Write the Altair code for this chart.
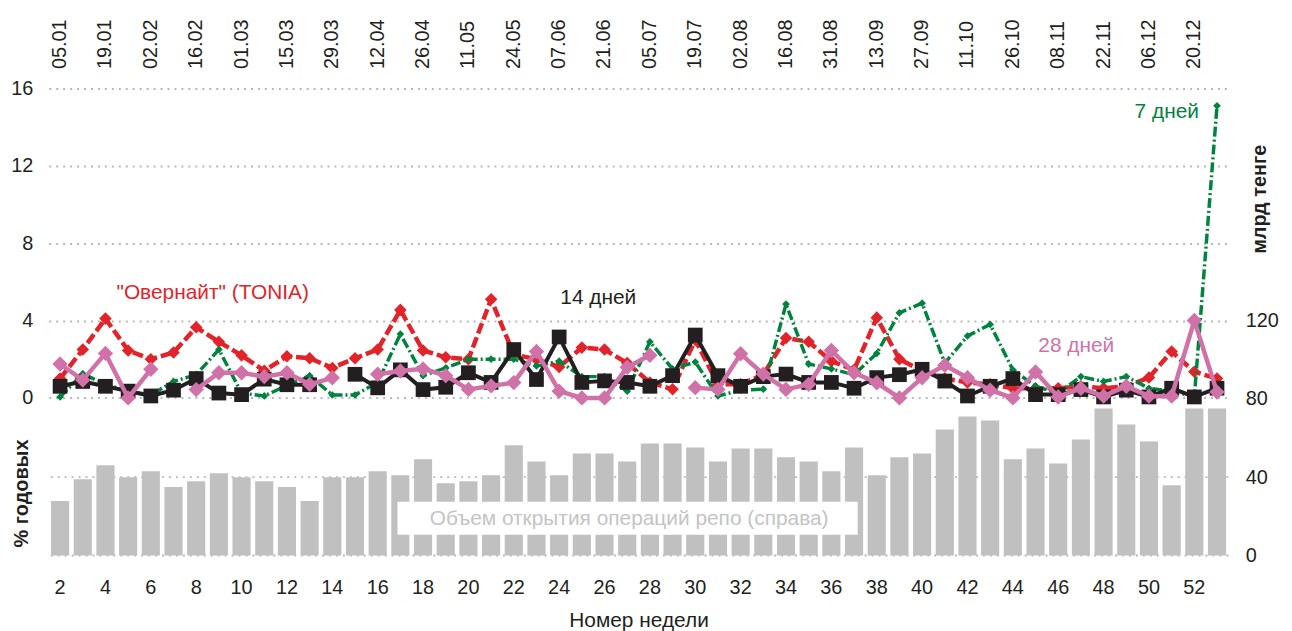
import altair as alt
import pandas as pd

# ---------------- data ----------------
weeks = list(range(2, 54))
date_labels = ["05.01", "19.01", "02.02", "16.02", "01.03", "15.03", "29.03", "12.04",
               "26.04", "11.05", "24.05", "07.06", "21.06", "05.07", "19.07", "02.08",
               "16.08", "31.08", "13.09", "27.09", "11.10", "26.10", "08.11", "22.11",
               "06.12", "20.12"]

tonia = [1.0, 2.5, 4.1, 2.45, 2.0, 2.35, 3.65, 2.9, 2.2, 1.4,
         2.15, 2.05, 1.55, 2.05, 2.5, 4.55, 2.45, 2.1, 2.0, 5.1,
         2.25, 2.0, 1.6, 2.6, 2.5, 1.8, 0.8, 0.45, 3.0, 0.7,
         0.7, 1.2, 3.1, 2.9, 1.9, 1.45, 4.15, 2.0, 1.4, 1.0,
         0.8, 0.7, 0.5, 0.5, 0.5, 0.6, 0.5, 0.6, 1.05, 2.4,
         1.35, 1.0]
days7 = [0.05, 1.25, 0.7, 0.35, 0.15, 0.85, 1.2, 2.5, 0.25, 0.1,
         0.65, 1.15, 0.15, 0.15, 0.8, 3.3, 1.15, 1.55, 2.0, 2.0,
         2.0, 1.65, 1.9, 1.1, 1.1, 0.35, 2.9, 1.5, 1.85, 0.1,
         0.4, 0.45, 4.85, 1.75, 1.5, 1.2, 2.3, 4.4, 4.9, 1.8,
         3.2, 3.8, 1.45, 0.6, 0.25, 1.1, 0.85, 1.1, 0.5, 0.35,
         0.05, 15.1]
days14 = [0.6, 0.85, 0.6, 0.35, 0.1, 0.4, 1.0, 0.25, 0.17, 0.97,
          0.68, 0.68, None, 1.22, 0.52, 1.45, 0.43, 0.55, 1.3, 0.8,
          2.5, 0.95, 3.15, 0.8, 0.88, 0.8, 0.6, 1.15, 3.25, 1.15,
          0.6, 1.1, 1.23, 0.8, 0.8, 0.5, 1.05, 1.2, 1.48, 0.87,
          0.1, 0.6, 1.0, 0.17, 0.17, 0.43, 0.05, 0.4, 0.05, 0.5,
          0.05, 0.5]
days28 = [1.75, 0.92, 2.3, 0.0, 1.48, None, 0.43, 1.3, 1.3, 1.1,
          1.3, 0.7, 1.04, None, 1.22, 1.39, 1.5, 1.15, 0.44, 0.62,
          0.79, 2.4, 0.35, 0.0, 0.0, 1.58, 2.2, None, 0.53, 0.44,
          2.28, 1.23, 0.44, 0.7, 2.45, 1.3, 0.78, 0.0, 1.04, 1.69,
          1.04, 0.4, 0.0, 1.34, 0.05, 0.49, 0.09, 0.6, 0.09, 0.09,
          4.0, 0.3]
repo_volume = [27.8, 38.9, 46.0, 39.9, 43.0, 34.9, 37.9, 42.0, 39.9, 37.9,
               34.9, 27.8, 39.9, 39.9, 43.0, 41.0, 49.1, 36.9, 37.9, 41.0,
               56.2, 48.0, 41.0, 52.1, 52.1, 48.0, 57.2, 57.2, 55.1, 48.0,
               54.6, 54.6, 50.1, 48.0, 43.0, 55.1, 41.0, 50.1, 52.1, 64.3,
               70.9, 68.9, 49.1, 54.6, 47.0, 59.2, 75.0, 66.9, 58.2, 35.9,
               75.0, 75.0]
right_grid_values = [0, 40]

# ---------------- styling ----------------
FONT = "Liberation Sans"
INK = "#231f20"
RED = "#e2232a"
GREEN = "#00843d"
PINK = "#d072a8"
BAR = "#c0c0c0"
GRID = "#b8b8b8"
W, H = 1187, 470


def series_frame(values):
    rows = []
    seg = 0
    for w, v in zip(weeks, values):
        if v is None:
            seg += 1
            continue
        rows.append({"week": w, "rate": v, "seg": seg})
    return pd.DataFrame(rows)


x_scale = alt.Scale(domain=weeks, paddingInner=0.2, paddingOuter=0.1)
label_array = "[" + ",".join("'" + d + "'" for d in date_labels) + "]"

x_bottom = alt.X(
    "week:O", scale=x_scale,
    axis=alt.Axis(orient="bottom", values=weeks[::2], labelAngle=0, ticks=False,
                  domain=False, grid=False, labelFontSize=20, labelColor=INK,
                  labelPadding=22, title="Номер недели", titleFontSize=21,
                  titleFontWeight="normal", titleColor=INK, titlePadding=12))
x_top = alt.X(
    "week:O", scale=x_scale,
    axis=alt.Axis(orient="top", values=weeks[::2], labelAngle=270, labelAlign="left",
                  labelBaseline="middle", ticks=False, domain=False, grid=False,
                  labelFontSize=20, labelColor=INK, labelPadding=20,
                  labelExpr=label_array + "[(datum.value - 2) / 2]", title=None))

y_left_scale = alt.Scale(domain=[-8.15, 16], nice=False, zero=False)
y_left_axis = alt.Axis(orient="left", values=[0, 4, 8, 12, 16], grid=True,
                       gridDash=[2, 5], gridColor=GRID, gridWidth=2, ticks=False,
                       domain=False, labelFontSize=20, labelColor=INK, labelPadding=16,
                       title="% годовых", titleFontSize=20, titleFontWeight="bold",
                       titleColor=INK, titleAngle=270, titleBaseline="middle",
                       titleAlign="center", titleX=-27, titleY=407)
y_right_scale = alt.Scale(domain=[0, 238.3], nice=False, zero=False)
y_right_axis = alt.Axis(orient="right", values=[0, 40, 80, 120], grid=False, ticks=False,
                        domain=False, labelFontSize=20, labelColor=INK, labelPadding=17,
                        title="млрд тенге", titleFontSize=20, titleFontWeight="bold",
                        titleColor=INK, titleAngle=270, titleBaseline="middle",
                        titleAlign="center", titleX=31, titleY=111)

# ---------------- right (bars) group ----------------
bar_df = pd.DataFrame({"week": weeks, "vol": repo_volume})
grid_df = pd.DataFrame({"vol": right_grid_values})

right_grid = alt.Chart(grid_df).mark_rule(
    color=GRID, strokeDash=[2, 5], strokeWidth=2
).encode(y=alt.Y("vol:Q", scale=y_right_scale, axis=y_right_axis))

bars = alt.Chart(bar_df).mark_bar(color=BAR).encode(
    x=x_bottom,
    y=alt.Y("vol:Q", scale=y_right_scale, axis=y_right_axis),
)

box = alt.Chart(bar_df).mark_rect(color="white").encode(
    x=alt.value(351), x2=alt.value(814), y=alt.value(416), y2=alt.value(449)
).transform_filter("datum.week == 2")

box_text = alt.Chart(bar_df).mark_text(
    text="Объем открытия операций репо (справа)", font=FONT, fontSize=21,
    color="#c4c4c4", align="center", baseline="middle"
).encode(x=alt.value(584), y=alt.value(433)).transform_filter("datum.week == 2")

right_group = alt.layer(right_grid, bars, box, box_text)

# ---------------- left (rates) group ----------------
series = [
    (tonia, RED, 4.5, [11, 4], "diamond", 160),
    (days7, GREEN, 3.5, [10, 3, 2, 3], "diamond", 60),
    (days14, INK, 4, None, "square", 220),
    (days28, PINK, 4.5, None, "diamond", 240),
]

left_layers = []
for vals, col, sw, dash, shape, size in series:
    df = series_frame(vals)
    line_kw = dict(color=col, strokeWidth=sw)
    if dash is not None:
        line_kw["strokeDash"] = dash
    line = alt.Chart(df).mark_line(**line_kw).encode(
        x=x_top,
        y=alt.Y("rate:Q", scale=y_left_scale, axis=y_left_axis),
        detail="seg:N",
    )
    pts = alt.Chart(df).mark_point(shape=shape, filled=True, size=size, color=col,
                                   opacity=1).encode(
        x=x_top,
        y=alt.Y("rate:Q", scale=y_left_scale, axis=y_left_axis),
    )
    left_layers += [line, pts]

annotations = [
    ('"Овернайт" (TONIA)', RED, 165, 206),
    ("14 дней", INK, 553, 211),
    ("7 дней", GREEN, 1125, 24),
    ("28 дней", PINK, 1034, 259),
]
ann_df = pd.DataFrame({"week": [2]})
for txt, col, px, py in annotations:
    left_layers.append(
        alt.Chart(ann_df).mark_text(text=txt, font=FONT, fontSize=21, color=col,
                                    align="center", baseline="middle")
        .encode(x=alt.value(px), y=alt.value(py))
    )

left_group = alt.layer(*left_layers)

chart = (
    alt.layer(right_group, left_group)
    .resolve_scale(y="independent")
    .resolve_axis(x="independent", y="independent")
    .properties(
        width=W, height=H,
        autosize=alt.AutoSizeParams(type="none"),
        padding={"left": 41, "top": 79, "right": 56, "bottom": 74},
    )
    .configure(font=FONT)
    .configure_view(stroke=None)
)

chart.save("out.html", embed_options={"renderer": "svg", "actions": False})
